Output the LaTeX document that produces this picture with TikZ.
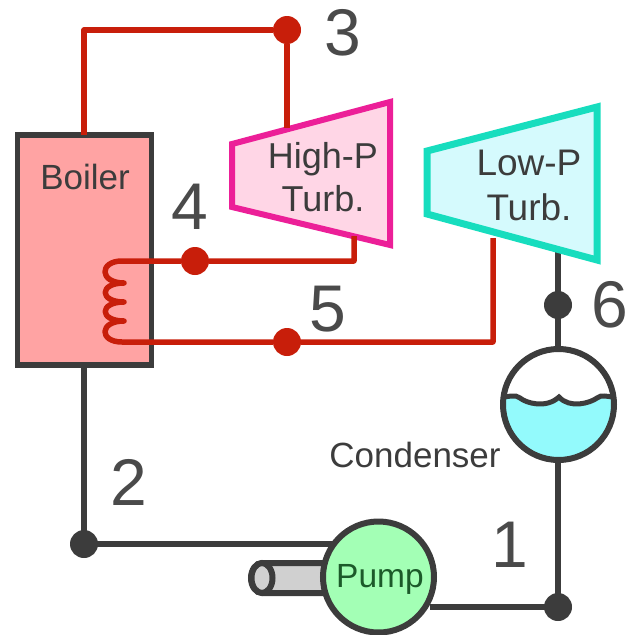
\documentclass[tikz,border=0pt]{standalone}
\usepackage{fontspec}
\setmainfont{Liberation Sans}
\definecolor{linegray}{HTML}{3C3C3C}
\definecolor{textgray}{HTML}{4A4A4A}
\definecolor{steamred}{HTML}{C81E0A}
\definecolor{boilerfill}{HTML}{FFA3A3}
\definecolor{hpline}{HTML}{EC1F98}
\definecolor{hpfill}{HTML}{FFD6E6}
\definecolor{lpline}{HTML}{17DDBE}
\definecolor{lpfill}{HTML}{D5FAFD}
\definecolor{waterfill}{HTML}{93FAFC}
\definecolor{pumpfill}{HTML}{A3FFB5}
\definecolor{pumptext}{HTML}{1C5A2A}
\definecolor{shaftfill}{HTML}{D0D0D0}
\begin{document}
\begin{tikzpicture}[x=1pt, y=-1pt]
\tikzstyle{state} = [circle, inner sep = 0pt, minimum size = 28pt]
\tikzstyle{steam} = [line width = 5.5pt, draw = steamred, line join = round]
\tikzstyle{water} = [line width = 5.5pt, draw = linegray, line join = round]
\tikzstyle{number} = [text = textgray, font = \fontsize{66}{66}\selectfont, inner sep = 0pt]
\tikzstyle{label} = [text = linegray, font = \fontsize{35}{43}\selectfont, align = center]
\useasboundingbox (0,0) rectangle (628,635);
  \coordinate (boilertop) at (84,135);
  \coordinate (boilerbottom) at (84,365);
  \coordinate (corner3) at (84,30);
  \coordinate (hpin) at (287,128);
  \coordinate (hpout) at (354,236);
  \coordinate (corner4) at (354,261);
  \coordinate (lpin) at (493,238);
  \coordinate (corner5) at (493,342);
  \coordinate (lpout) at (558,250);
  \coordinate (corner1) at (558,607);
  \coordinate (coil1) at (122,261);
  \coordinate (coil2) at (122,342);
  \coordinate (corner2) at (335,544);
  \coordinate (shaft) at (262,578);
% pipes
\draw[water] (boilerbottom) -- (84,544) -- (corner2);
\draw[water] (lpout) -- (corner1) -- (430,607);
% boiler
  \node[rectangle, draw = linegray, fill = boilerfill, line width = 5.5pt, minimum width = 134pt, minimum height = 230pt] (boiler) at (84.5,250) {};
  \node[label] (boilertext) at (85,177) {Boiler};
% turbines
\draw[line width = 6pt, draw = hpline, fill = hpfill, line join = miter] (232,144) -- (390,102) -- (390,245) -- (232,207) -- cycle;
\draw[line width = 7pt, draw = lpline, fill = lpfill, line join = miter] (427,151) -- (597,107) -- (597,260) -- (427,214) -- cycle;
  \node[label, font = \fontsize{36}{43}\selectfont] (hptext) at (323,177) {High-P\\Turb.};
  \node[label, font = \fontsize{37}{45}\selectfont] (lptext) at (529,185) {Low-P\\Turb.};
% steam lines
  \node[state, fill = steamred] (n3) at (287,30) {};
  \node[state, fill = steamred] (n4) at (195,261) {};
  \node[state, fill = steamred] (n5) at (287,342) {};
\draw[steam] (boilertop) -- (corner3) -- (n3) -- (hpin);
\draw[steam] (hpout) -- (corner4) -- (n4) -- (coil1)
  .. controls (99,261) and (99,283) .. (124,283)
  .. controls (99,283) and (99,302) .. (124,302)
  .. controls (99,302) and (99,321) .. (124,321)
  .. controls (99,321) and (99,342) .. (coil2) -- (n5) -- (corner5) -- (lpin);
% condenser
  \node[circle, fill = white, minimum size = 111pt, inner sep = 0pt] (condenser) at (558.5,404.5) {};
\begin{scope}
\clip (558.5,404.5) circle (55.5pt);
\fill[waterfill] (500,397) .. controls (510,397) and (515,394) .. (520,398) .. controls (526,403) and (546,409) .. (559,397) .. controls (570,409) and (590,403) .. (597,398) .. controls (602,394) and (606,397) .. (616,397) -- (616,465) -- (500,465) -- cycle;
\draw[line width = 5pt, draw = linegray] (500,397) .. controls (510,397) and (515,394) .. (520,398) .. controls (526,403) and (546,409) .. (559,397) .. controls (570,409) and (590,403) .. (597,398) .. controls (602,394) and (606,397) .. (616,397);
\end{scope}
  \node[circle, draw = linegray, line width = 6pt, minimum size = 111pt, inner sep = 0pt] (condenserline) at (558.5,404.5) {};
  \node[label] (condensertext) at (415,455) {Condenser};
% pump
\draw[line width = 6pt, draw = linegray, fill = shaftfill] (340,563) -- (262,563) arc (90:270:11pt and 15pt) -- (340,593) -- cycle;
\draw[line width = 6pt, draw = linegray, fill = shaftfill] (shaft) ellipse (10.5pt and 15pt);
  \node[circle, draw = linegray, fill = pumpfill, line width = 6pt, minimum size = 111pt, inner sep = 0pt] (pump) at (378.5,577) {};
  \node[text = pumptext, font = \fontsize{33.5}{40}\selectfont] (pumptextnode) at (380,579) {Pump};
% state points
  \node[state, fill = linegray] (n2) at (84,544) {};
  \node[state, fill = linegray] (n1) at (558,607) {};
  \node[state, fill = linegray] (n6) at (558,305) {};
  \node[number] (l3) at (343,33) {3};
  \node[number] (l4) at (190,207) {4};
  \node[number] (l5) at (328,309) {5};
  \node[number] (l6) at (610,305) {6};
  \node[number] (l2) at (128.5,482) {2};
  \node[number] (l1) at (510,545) {1};
\end{tikzpicture}
\end{document}
